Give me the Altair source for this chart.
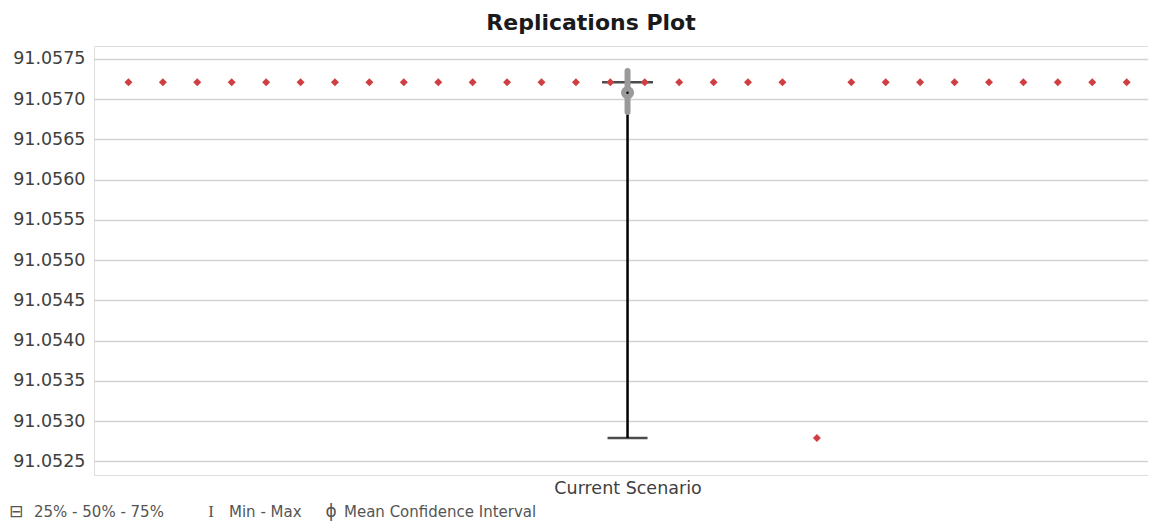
import altair as alt
import pandas as pd

# ---- data ----
replications = list(range(1, 31))
values = [91.05721, 91.05721, 91.05721, 91.05721, 91.05721, 91.05721,
          91.05721, 91.05721, 91.05721, 91.05721, 91.05721, 91.05721,
          91.05721, 91.05721, 91.05721, 91.05721, 91.05721, 91.05721,
          91.05721, 91.05721, 91.05279, 91.05721, 91.05721, 91.05721,
          91.05721, 91.05721, 91.05721, 91.05721, 91.05721, 91.05721]

scenario = ["Current Scenario"]
scenario_pos = [15.5]
box_min = [91.05279]
box_q1 = [91.05721]
box_median = [91.05721]
box_q3 = [91.05721]
box_max = [91.05721]
mean_val = [91.05708]
ci_low = [91.05684]
ci_high = [91.05735]

y_ticks = [91.0525, 91.0530, 91.0535, 91.0540, 91.0545, 91.0550,
           91.0555, 91.0560, 91.0565, 91.0570, 91.0575]

title_text = "Replications Plot"
legend_icons = ["⊟", "I", "ϕ"]
legend_icon_fonts = ["DejaVu Sans", "Liberation Serif", "DejaVu Sans"]
legend_icon_sizes = [17, 17, 17]
legend_labels = ["25% - 50% - 75%", "Min - Max", "Mean Confidence Interval"]

pts = pd.DataFrame({"rep": replications, "value": values})
box = pd.DataFrame({
    "scenario": scenario, "pos": scenario_pos, "min": box_min, "q1": box_q1,
    "median": box_median, "q3": box_q3, "max": box_max,
    "mean": mean_val, "ci_low": ci_low, "ci_high": ci_high,
})

W, H = 1054, 429
FONT = "DejaVu Sans"
TXT = "#404040"
TOP = 38

xscale = alt.Scale(domain=[0.0, 30.62], nice=False, zero=False)
yscale = alt.Scale(domain=[91.05233, 91.05766], nice=False, zero=False)

x_axis = alt.Axis(values=scenario_pos, labelExpr="'" + scenario[0] + "'",
                  title=None, ticks=False, domain=False, grid=False,
                  labelPadding=4, labelFontSize=17.5, labelColor=TXT, labelFont=FONT)
y_axis = alt.Axis(values=y_ticks, format=".4f", title=None, ticks=False, tickSize=0,
                  domain=False, grid=True, gridColor="#d2d2d2", gridWidth=1.6,
                  labelPadding=9, labelFontSize=17.5, labelColor=TXT, labelFont=FONT)

base_box = alt.Chart(box)

whisker = base_box.mark_rule(color="black", strokeWidth=2.5).encode(
    x=alt.X("pos:Q", scale=xscale, axis=x_axis),
    y=alt.Y("min:Q", scale=yscale, axis=y_axis),
    y2="max:Q",
)
min_cap = base_box.mark_tick(color="black", orient="horizontal", size=40, thickness=2.5).encode(
    x=alt.X("pos:Q", scale=xscale), y=alt.Y("min:Q", scale=yscale))
box_line = base_box.mark_tick(color="black", orient="horizontal", size=51, thickness=2.5).encode(
    x=alt.X("pos:Q", scale=xscale), y=alt.Y("median:Q", scale=yscale))

points = alt.Chart(pts).mark_point(shape="diamond", filled=True, size=64,
                                   color="#cf3e42", opacity=1).encode(
    x=alt.X("rep:Q", scale=xscale), y=alt.Y("value:Q", scale=yscale))

ci_line = base_box.mark_rule(color="#9a9a9a", strokeWidth=6, strokeCap="round").encode(
    x=alt.X("pos:Q", scale=xscale), y=alt.Y("ci_low:Q", scale=yscale), y2="ci_high:Q")
mean_circle = base_box.mark_point(shape="circle", filled=True, size=170,
                                  color="#9a9a9a", opacity=1).encode(
    x=alt.X("pos:Q", scale=xscale), y=alt.Y("mean:Q", scale=yscale))
mean_dot = base_box.mark_point(shape="circle", filled=True, size=6,
                               color="black", opacity=1).encode(
    x=alt.X("pos:Q", scale=xscale), y=alt.Y("mean:Q", scale=yscale))

title = alt.Chart(pd.DataFrame({"t": [title_text]})).mark_text(
    font=FONT, fontSize=22, fontWeight="bold", color="#1a1a1a",
    align="center", baseline="middle").encode(
    x=alt.value(497), y=alt.value(23 - 8 - TOP), text="t:N")

leg_y = 512 - 8 - TOP
legend_layers = []
icon_x = [-78, 117, 237]
label_x = [-60, 135, 250]
for ic, icf, ics, lb, ix, lx in zip(legend_icons, legend_icon_fonts, legend_icon_sizes,
                                    legend_labels, icon_x, label_x):
    legend_layers.append(alt.Chart(pd.DataFrame({"t": [ic]})).mark_text(
        font=icf, fontSize=ics, color="#555555", align="center",
        baseline="middle").encode(x=alt.value(ix), y=alt.value(leg_y), text="t:N"))
    legend_layers.append(alt.Chart(pd.DataFrame({"t": [lb]})).mark_text(
        font=FONT, fontSize=15, color="#555555", align="left",
        baseline="middle").encode(x=alt.value(lx), y=alt.value(leg_y), text="t:N"))

chart = alt.layer(
    whisker, min_cap, box_line, points, ci_line, mean_circle, mean_dot, title,
    *legend_layers
).properties(
    width=W, height=H,
    autosize=alt.AutoSizeParams(type="none"),
    padding={"left": 86, "top": TOP, "right": 0, "bottom": 513 - TOP - H},
).configure_view(
    stroke="#c4c4c4", strokeWidth=1.6
).configure(background="white")

chart.save("out.html", embed_options={"renderer": "svg", "actions": False})
